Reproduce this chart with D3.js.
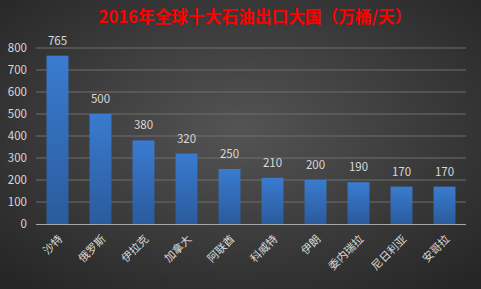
<!DOCTYPE html>
<html><head><meta charset="utf-8">
<script src="https://cdn.jsdelivr.net/npm/d3@7"></script>
<style>body{margin:0;background:#3a3a3a;}svg{display:block;}</style>
</head><body>
<script>
const categories = ["沙特","俄罗斯","伊拉克","加拿大","阿联酋","科威特","伊朗","委内瑞拉","尼日利亚","安哥拉"];
const values = [765,500,380,320,250,210,200,190,170,170];
const yTicks = [0,100,200,300,400,500,600,700,800];
const title = "2016年全球十大石油出口大国（万桶/天）";

const W=481,H=289;
const m={left:36,right:15,top:48,bottom:65};
const svg=d3.select("body").append("svg").attr("width",W).attr("height",H);
const defs=svg.append("defs");
const bg=defs.append("radialGradient").attr("id","bg").attr("cx","50%").attr("cy","45%").attr("r","70%");
bg.append("stop").attr("offset","0%").attr("stop-color","#545454");
bg.append("stop").attr("offset","100%").attr("stop-color","#262626");
const bar=defs.append("linearGradient").attr("id","bar").attr("x1",0).attr("y1",0).attr("x2",0).attr("y2",1);
bar.append("stop").attr("offset","0%").attr("stop-color","#3a7bd0");
bar.append("stop").attr("offset","100%").attr("stop-color","#2a5b9c");
svg.append("rect").attr("width",W).attr("height",H).attr("fill","url(#bg)");

const x=d3.scaleBand().domain(categories).range([m.left,W-m.right]).paddingInner(0.49).paddingOuter(0.245);
const y=d3.scaleLinear().domain([0,800]).range([H-m.bottom,m.top]);

const font="'Noto Sans CJK SC','Liberation Sans',sans-serif";
// grid
svg.append("g").selectAll("line").data(yTicks.filter(d=>d>0)).join("line")
 .attr("x1",m.left).attr("x2",W-m.right).attr("y1",d=>y(d)).attr("y2",d=>y(d))
 .attr("stroke","#6e6e6e").attr("stroke-width",1);
// y labels
svg.append("g").selectAll("text").data(yTicks).join("text")
 .attr("x",m.left-9).attr("y",d=>y(d)).attr("dy","0.35em").attr("text-anchor","end")
 .attr("fill","#d9d9d9").attr("font-size",11.5).attr("font-family",font).text(d=>d);
// bars
svg.append("g").selectAll("rect").data(values).join("rect")
 .attr("x",(d,i)=>x(categories[i])).attr("width",x.bandwidth())
 .attr("y",d=>y(d)).attr("height",d=>y(0)-y(d)).attr("fill","url(#bar)");
// axis line
svg.append("line").attr("x1",m.left).attr("x2",W-m.right).attr("y1",y(0)+0.5).attr("y2",y(0)+0.5)
 .attr("stroke","#a6a6a6").attr("stroke-width",1);
// value labels
svg.append("g").selectAll("text").data(values).join("text")
 .attr("x",(d,i)=>x(categories[i])+x.bandwidth()/2).attr("y",d=>y(d)-11)
 .attr("text-anchor","middle").attr("fill","#d9d9d9").attr("font-size",11.5).attr("font-family",font).text(d=>d);
// x labels
svg.append("g").selectAll("text").data(categories).join("text")
 .attr("transform",d=>`translate(${x(d)+x.bandwidth()/2+3},${y(0)+13}) rotate(-45)`)
 .attr("text-anchor","end").attr("dy","0.35em")
 .attr("fill","#d9d9d9").attr("font-size",11).attr("font-family",font).text(d=>d);
// title
svg.append("text").attr("x",255).attr("y",23).attr("text-anchor","middle")
 .attr("fill","#ff0000").attr("font-weight","bold").attr("font-size",16.7).attr("font-family",font).text(title);
</script>
</body></html>
